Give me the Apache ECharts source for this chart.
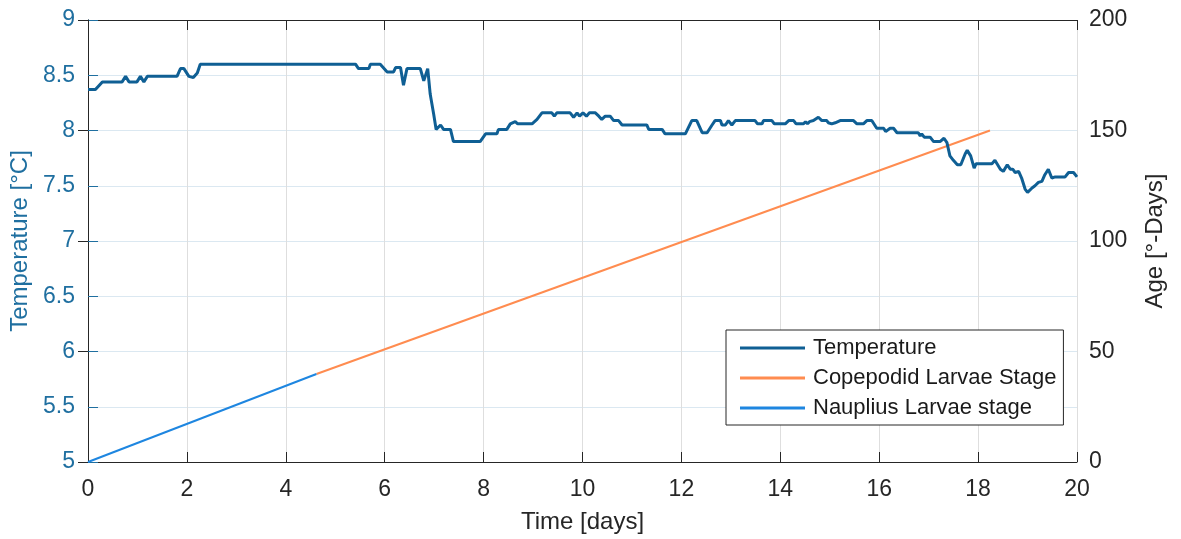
<!DOCTYPE html>
<html>
<head>
<meta charset="utf-8">
<script src="https://cdn.jsdelivr.net/npm/echarts@6/dist/echarts.min.js"></script>
<style>html,body{margin:0;padding:0;background:#fff}#c{width:1181px;height:539px}</style>
</head>
<body>
<div id="c"></div>
<script>
// Temperature record (time in days, temperature in °C)
var tempDays = [0.00,0.15,0.29,0.69,0.76,0.83,0.99,1.06,1.13,1.20,1.80,1.87,1.94,2.04,2.13,2.21,2.27,5.41,5.47,5.68,5.71,5.91,6.05,6.18,6.22,6.32,6.38,6.45,6.72,6.79,6.87,6.92,6.99,7.04,7.13,7.19,7.33,7.39,7.93,8.04,8.27,8.30,8.47,8.54,8.64,8.69,8.98,9.08,9.18,9.38,9.43,9.48,9.75,9.82,9.89,9.94,10.01,10.08,10.14,10.26,10.33,10.39,10.46,10.56,10.63,10.73,10.80,11.30,11.34,11.61,11.67,12.08,12.21,12.31,12.42,12.52,12.62,12.68,12.79,12.82,12.89,12.95,13.02,13.09,13.49,13.54,13.63,13.66,13.83,13.88,14.10,14.17,14.27,14.32,14.47,14.51,14.55,14.59,14.67,14.77,14.84,14.94,14.97,15.01,15.04,15.11,15.21,15.48,15.55,15.68,15.75,15.85,15.95,16.09,16.13,16.22,16.29,16.36,16.79,16.83,16.86,16.91,17.03,17.10,17.23,17.31,17.37,17.43,17.50,17.58,17.65,17.74,17.78,17.85,17.92,17.96,18.28,18.34,18.45,18.51,18.59,18.65,18.70,18.75,18.82,18.88,18.95,19.00,19.09,19.15,19.22,19.29,19.35,19.42,19.49,19.56,19.76,19.83,19.93,20.00];
var tempValues = [8.37,8.37,8.44,8.44,8.49,8.44,8.44,8.49,8.44,8.49,8.49,8.56,8.56,8.49,8.48,8.52,8.60,8.60,8.56,8.56,8.60,8.60,8.53,8.53,8.57,8.57,8.41,8.56,8.56,8.45,8.56,8.33,8.15,8.01,8.05,8.01,8.01,7.90,7.90,7.97,7.97,8.01,8.01,8.06,8.08,8.06,8.06,8.10,8.16,8.16,8.13,8.16,8.16,8.12,8.16,8.13,8.16,8.13,8.16,8.16,8.13,8.10,8.13,8.13,8.09,8.09,8.05,8.05,8.01,8.01,7.97,7.97,8.09,8.09,7.98,7.98,8.05,8.09,8.09,8.05,8.05,8.09,8.05,8.09,8.09,8.06,8.06,8.09,8.09,8.06,8.06,8.09,8.09,8.06,8.06,8.08,8.06,8.08,8.09,8.12,8.09,8.09,8.07,8.08,8.06,8.07,8.09,8.09,8.06,8.06,8.09,8.09,8.02,8.02,7.99,8.02,8.02,7.98,7.98,7.95,7.97,7.94,7.94,7.90,7.90,7.93,7.89,7.77,7.73,7.69,7.69,7.79,7.82,7.77,7.66,7.70,7.70,7.73,7.65,7.63,7.69,7.65,7.65,7.62,7.63,7.57,7.47,7.44,7.48,7.50,7.53,7.54,7.60,7.65,7.57,7.58,7.58,7.62,7.62,7.58];
// Age (°-days) of each larval stage
var naupliusDays = [0, 4.62];
var naupliusAge = [0, 39.8];
var copepodidDays = [4.62, 18.24];
var copepodidAge = [39.8, 150];
var seriesNames = ['Temperature', 'Copepodid Larvae Stage', 'Nauplius Larvae stage'];

function pairs(xs, ys){ return xs.map(function(x,i){ return [x, ys[i]]; }); }

var font = 'Liberation Sans, Arial, sans-serif';
var leftColor = '#1f6fa0';
var tempColor = '#0f5f94';
var orange = '#ff8c50';
var blue = '#1e86e0';
// legend line icons: a thin bar centred in a 65x22 box (tiny corner dots fix the box)
function lineIcon(th){
  var y0 = (22 - th) / 2;
  return 'path://M0,0h0.05v0.05h-0.05z M0,' + y0 + 'h65v' + th + 'h-65z M64.95,21.95h0.05v0.05h-0.05z';
}
var chart = echarts.init(document.getElementById('c'));
chart.setOption({
  animation: false,
  textStyle: {fontFamily: font},
  grid: {left: 88, right: 104, top: 20, bottom: 77, containLabel: false},
  legend: {
    orient: 'vertical', left: 726, top: 330,
    data: [
      {name: seriesNames[0], icon: lineIcon(3), itemStyle: {color: tempColor}},
      {name: seriesNames[1], icon: lineIcon(3), itemStyle: {color: orange}},
      {name: seriesNames[2], icon: lineIcon(3), itemStyle: {color: blue}}
    ],
    itemWidth: 65, itemHeight: 22, itemGap: 8,
    padding: [7, 7, 6, 14],
    borderColor: '#262626', borderWidth: 1, backgroundColor: '#fff',
    textStyle: {fontFamily: font, fontSize: 22, lineHeight: 22, color: '#1a1a1a', padding: [0,0,0,3]}
  },
  xAxis: [{
    type: 'value', min: 0, max: 20, interval: 2, position: 'bottom',
    name: 'Time [days]', nameLocation: 'middle', nameGap: 48,
    nameTextStyle: {fontFamily: font, fontSize: 24, color: '#262626'},
    axisLine: {lineStyle: {color: '#262626', width: 1}},
    axisTick: {inside: true, length: 10, lineStyle: {color: '#262626'}},
    axisLabel: {fontFamily: font, fontSize: 23, color: '#262626', margin: 16},
    splitLine: {show: true, lineStyle: {color: '#dedede', width: 1}}
  }, {
    type: 'value', min: 0, max: 20, interval: 2, position: 'top',
    axisLine: {lineStyle: {color: '#262626', width: 1}},
    axisTick: {inside: true, length: 10, lineStyle: {color: '#262626'}},
    axisLabel: {show: false}, splitLine: {show: false}
  }],
  yAxis: [{
    type: 'value', min: 5, max: 9, interval: 0.5, position: 'left',
    name: 'Temperature [°C]', nameLocation: 'middle', nameGap: 54, nameRotate: 90,
    nameTextStyle: {fontFamily: font, fontSize: 24, color: leftColor},
    axisLine: {show: true, lineStyle: {color: leftColor, width: 1}},
    axisTick: {show: true, inside: true, length: 10, lineStyle: {color: leftColor}},
    axisLabel: {fontFamily: font, fontSize: 23, color: leftColor, margin: 13},
    splitLine: {show: true, lineStyle: {color: '#dbe8f1', width: 1}}
  }, {
    type: 'value', min: 0, max: 200, interval: 50, position: 'right',
    name: 'Age [°-Days]', nameLocation: 'middle', nameGap: 66, nameRotate: 90,
    nameTextStyle: {fontFamily: font, fontSize: 24, color: '#262626'},
    axisLine: {show: true, lineStyle: {color: '#262626', width: 1}},
    axisTick: {show: true, inside: true, length: 10, lineStyle: {color: '#262626'}},
    axisLabel: {fontFamily: font, fontSize: 23, color: '#262626', margin: 12},
    splitLine: {show: false}
  }],
  series: [{
    name: seriesNames[0], type: 'line', xAxisIndex: 0, yAxisIndex: 0,
    data: pairs(tempDays, tempValues), symbol: 'none', smooth: false, z: 3,
    lineStyle: {color: tempColor, width: 3}, itemStyle: {color: tempColor}
  }, {
    name: seriesNames[1], type: 'line', xAxisIndex: 0, yAxisIndex: 1,
    data: pairs(copepodidDays, copepodidAge), symbol: 'none', z: 2,
    lineStyle: {color: orange, width: 2}, itemStyle: {color: orange}
  }, {
    name: seriesNames[2], type: 'line', xAxisIndex: 0, yAxisIndex: 1,
    data: pairs(naupliusDays, naupliusAge), symbol: 'none', z: 2,
    lineStyle: {color: blue, width: 2}, itemStyle: {color: blue}
  }]
});
</script>
</body>
</html>
